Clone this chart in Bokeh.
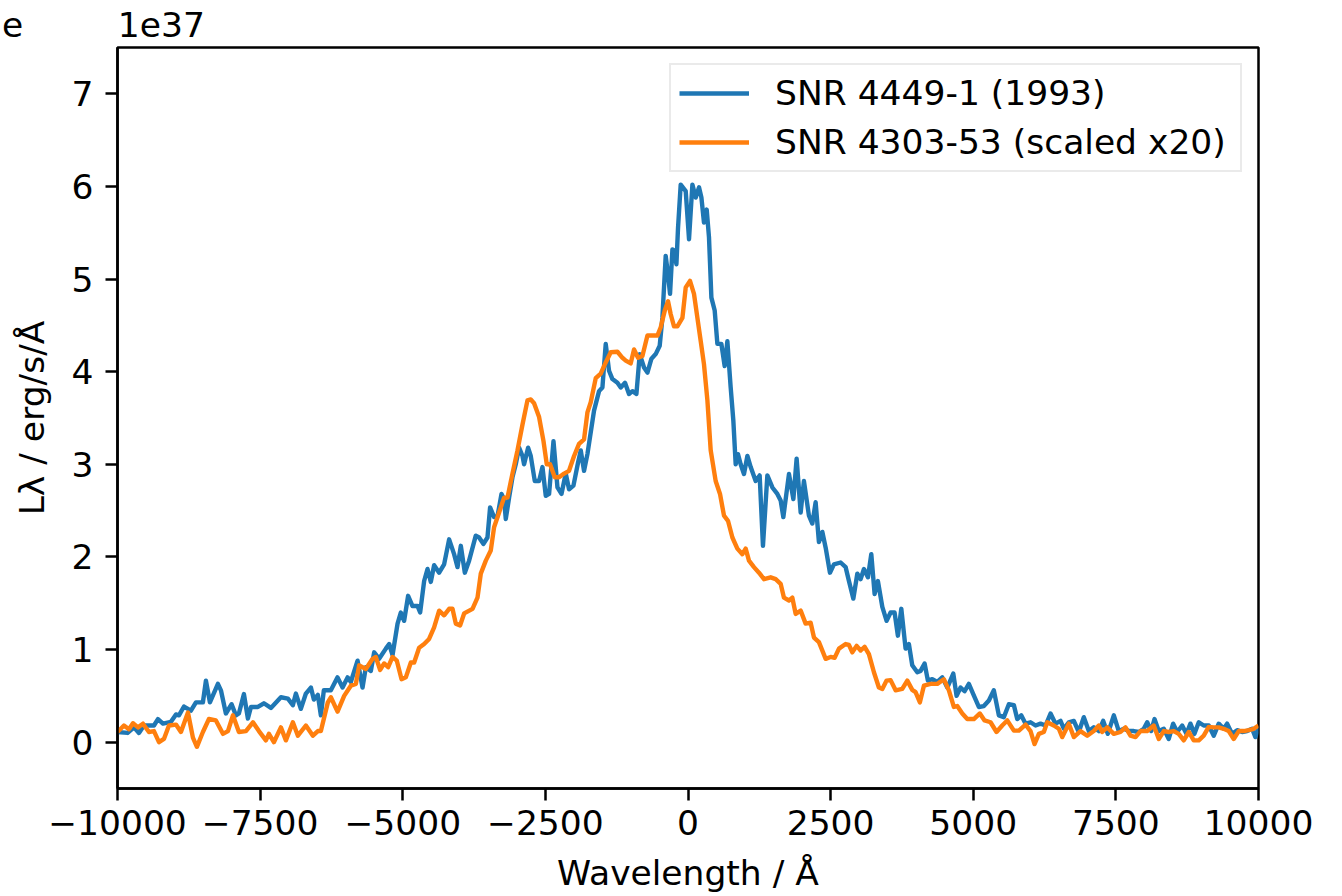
from bokeh.plotting import figure
from bokeh.models import ColumnDataSource, Legend, LegendItem, FixedTicker, Range1d, Title
from bokeh.embed import file_html
from bokeh.resources import INLINE

# ---------------- data (luminosity in units of 1e37 erg/s/Å) ----------------
blue_wavelength = [
    -10000, -9822, -9711, -9624, -9536, -9361, -9291, -9203, -9063, -8975,
    -8923, -8835, -8713, -8625, -8503, -8450, -8380, -8240, -8187, -8100,
    -8000, -7924, -7872, -7784, -7714, -7661, -7539, -7434, -7311, -7136,
    -7013, -6926, -6873, -6786, -6698, -6610, -6558, -6488, -6435, -6383,
    -6260, -6143, -6055, -5967, -5910, -5792, -5705, -5647, -5559, -5501,
    -5414, -5296, -5238, -5179, -5091, -5034, -4976, -4906, -4829, -4741,
    -4695, -4625, -4566, -4508, -4450, -4362, -4275, -4187, -4100, -4040,
    -3982, -3912, -3837, -3720, -3662, -3585, -3515, -3469, -3399, -3339,
    -3269, -3224, -3194, -3136, -3077, -3019, -2961, -2901, -2873, -2803,
    -2756, -2686, -2610, -2551, -2493, -2435, -2358, -2288, -2218, -2143,
    -2085, -2008, -1927,
    -1880, -1822, -1763, -1647, -1559, -1500, -1442, -1384, -1325, -1237,
    -1179, -1104, -1034, -974, -904, -846, -771, -711, -641, -566,
    -496, -449, -391, -350, -315, -273, -245, -203, -175, -128,
    -40, 18, 77, 135, 193, 235, 280, 328, 368, 410,
    468, 515, 585, 643, 690, 748, 795, 836, 876, 923,
    981, 1041, 1099, 1186, 1256, 1314, 1391, 1479, 1566,
    1624, 1671, 1770, 1847, 1904, 1975, 2032, 2120, 2179, 2237,
    2295, 2355, 2413, 2488, 2558, 2675, 2763, 2821, 2898, 2968,
    3026, 3084, 3154, 3213, 3271, 3329, 3406, 3481, 3551, 3621,
    3679, 3739, 3814, 3872, 3931, 4019, 4077, 4147, 4205, 4282,
    4370, 4457, 4545, 4650, 4708, 4778, 4848, 4923, 5000, 5098,
    5186, 5274, 5361, 5449,
    5536, 5624, 5712, 5771, 5841, 5917, 6004, 6092, 6179, 6267,
    6355, 6442, 6530, 6588, 6675, 6763, 6850, 6938, 7026, 7113,
    7201, 7278, 7358, 7464, 7551, 7639, 7726, 7814, 7902, 7989,
    8049, 8119, 8177, 8252, 8340, 8427, 8504, 8574, 8662, 8737,
    8807, 8877, 8953, 9040, 9128, 9216, 9303, 9391, 9450, 9538,
    9626, 9713, 9801, 9888, 9946, 10000,
]
blue_lum = [
    0.11, 0.10, 0.16, 0.10, 0.18, 0.18, 0.25, 0.20, 0.22, 0.30,
    0.29, 0.385, 0.34, 0.43, 0.43, 0.665, 0.43, 0.63, 0.56, 0.31,
    0.41, 0.29, 0.31, 0.52, 0.255, 0.38, 0.38, 0.42, 0.37, 0.485,
    0.47, 0.40, 0.525, 0.36, 0.525, 0.59, 0.46, 0.51, 0.29, 0.56,
    0.56, 0.70, 0.59, 0.70, 0.65, 0.88, 0.59, 0.81, 0.77, 0.97,
    0.90, 1.01, 1.06, 0.94, 1.28, 1.40, 1.31, 1.58, 1.47, 1.47,
    1.40, 1.74, 1.87, 1.73, 1.91, 1.83, 1.92, 2.19, 2.03, 1.89,
    2.12, 1.83, 1.96, 2.23, 2.21, 2.14, 2.21, 2.535, 2.43, 2.44,
    2.68, 2.62, 2.41, 2.64, 2.86, 3.00, 3.18, 3.09, 3.00, 3.18,
    3.09, 2.82, 2.82, 2.97, 2.66, 2.68, 3.25, 2.75, 2.68, 2.90,
    2.73, 2.77, 3.02,
    3.15, 2.93, 3.11, 3.58, 3.79, 3.83, 4.30, 4.01, 3.92, 3.88,
    3.83, 3.88, 3.76, 3.79, 3.76, 4.19, 4.045, 3.99, 4.14, 4.19,
    4.28, 4.58, 5.25, 5.05, 4.84, 5.32, 5.31, 5.16, 5.55, 6.02,
    5.95, 5.43, 6.02, 5.88, 5.99, 5.88, 5.61, 5.75, 5.45, 4.80,
    4.66, 4.30, 4.30, 4.06, 4.33, 3.83, 3.47, 3.00, 3.11, 3.00,
    2.895, 3.09, 2.97, 2.82, 2.88, 2.12, 2.88, 2.75, 2.68,
    2.61, 2.43, 2.895, 2.625, 3.06, 2.48, 2.82, 2.445, 2.36, 2.59,
    2.16, 2.27, 2.10, 1.83, 1.92, 1.94, 1.89, 1.74, 1.55, 1.82,
    1.76, 1.87, 1.78, 2.03, 1.60, 1.74, 1.46, 1.31, 1.40, 1.40,
    1.15, 1.44, 1.01, 1.06, 0.83, 0.755, 0.77, 0.85, 0.665, 0.68,
    0.65, 0.70, 0.59, 0.74, 0.50, 0.59, 0.55, 0.63, 0.52, 0.38,
    0.39, 0.45, 0.56, 0.29,
    0.27, 0.41, 0.40, 0.25, 0.29, 0.20, 0.215, 0.18, 0.20, 0.18,
    0.31, 0.20, 0.23, 0.145, 0.215, 0.23, 0.11, 0.27, 0.12, 0.16,
    0.12, 0.23, 0.09, 0.29, 0.12, 0.145, 0.12, 0.12, 0.11, 0.145,
    0.215, 0.12, 0.25, 0.12, 0.145, 0.035, 0.20, 0.11, 0.18, 0.09,
    0.20, 0.09, 0.215, 0.18, 0.18, 0.07, 0.20, 0.145, 0.20, 0.09,
    0.13, 0.11, 0.12, 0.145, 0.055, 0.16,
]

orange_wavelength = [
    -10000, -9887, -9799, -9729, -9641, -9554, -9449, -9361, -9273, -9186,
    -9098, -8975, -8888, -8765, -8678, -8608, -8503, -8397, -8275, -8152,
    -8064, -7977, -7872, -7749, -7626, -7521, -7399, -7346, -7259, -7136,
    -7048, -6926, -6838, -6698, -6575, -6488, -6435, -6313,
    -6260, -6143, -6027, -5910, -5822, -5764, -5647, -5529, -5472, -5396,
    -5326, -5256, -5179, -5104, -5021, -4946, -4858, -4800, -4713, -4625,
    -4538, -4450, -4362, -4275, -4187, -4128, -4070, -3995, -3924, -3777,
    -3690, -3632, -3544, -3457, -3399, -3311, -3224, -3164, -3077, -2989,
    -2901, -2814, -2756, -2698, -2610, -2533, -2476, -2418, -2335, -2260,
    -2172, -2085, -1997, -1910,
    -1822, -1763, -1705, -1617, -1530, -1442, -1354, -1237, -1149, -1091,
    -1004, -946, -876, -799, -711, -624, -536, -478, -403, -350,
    -303, -245, -186, -98, -40, 35, 105, 165, 223, 280,
    340, 398, 485, 561, 631, 701, 778, 865, 953, 1011,
    1069, 1156, 1244, 1332, 1449, 1537,
    1624, 1682, 1770, 1829, 1887, 1975, 2062, 2150, 2208, 2295,
    2413, 2500, 2570, 2646, 2763, 2821, 2880, 2956, 3026, 3096,
    3171, 3259, 3346, 3406, 3481, 3551, 3639, 3756, 3844, 3931,
    3989, 4065, 4135, 4252, 4370, 4485, 4573, 4660, 4720, 4808,
    4895, 5011, 5116, 5198, 5303, 5408, 5508,
    5596, 5712, 5800, 5917, 6004, 6074, 6150, 6237, 6297, 6412,
    6500, 6560, 6675, 6763, 6880, 6998, 7113, 7201, 7260, 7348,
    7464, 7581, 7669, 7756, 7844, 7931, 8049, 8164, 8252, 8340,
    8427, 8515, 8602, 8690, 8778, 8865, 8953, 9040, 9128, 9216,
    9303, 9391, 9478, 9566, 9654, 9741, 9829, 9916, 10000,
]
orange_lum = [
    0.11, 0.18, 0.14, 0.205, 0.16, 0.20, 0.11, 0.12, 0.0, 0.035,
    0.18, 0.19, 0.11, 0.32, 0.05, -0.05, 0.11, 0.25, 0.235, 0.09,
    0.12, 0.29, 0.11, 0.12, 0.215, 0.12, 0.02, 0.09, 0.0, 0.16,
    0.02, 0.215, 0.07, 0.18, 0.07, 0.12, 0.12, 0.43,
    0.485, 0.33, 0.50, 0.61, 0.63, 0.83, 0.79, 0.90, 0.92, 0.78,
    0.85, 0.81, 0.92, 0.88, 0.68, 0.70, 0.86, 0.86, 1.02, 1.06,
    1.115, 1.24, 1.42, 1.37, 1.44, 1.44, 1.28, 1.26, 1.39, 1.44,
    1.56, 1.82, 1.96, 2.07, 2.32, 2.48, 2.64, 2.64, 2.90, 3.15,
    3.43, 3.69, 3.70, 3.66, 3.51, 3.25, 3.00, 3.00, 2.86, 2.86,
    2.90, 2.93, 3.09, 3.22,
    3.27, 3.56, 3.67, 3.93, 3.98, 4.10, 4.21, 4.215, 4.15, 4.12,
    4.09, 4.24, 4.15, 4.17, 4.39, 4.39, 4.39, 4.48, 4.67, 4.76,
    4.62, 4.49, 4.49, 4.58, 4.91, 4.98, 4.84, 4.58, 4.33, 4.08,
    3.69, 3.15, 2.82, 2.68, 2.445, 2.39, 2.21, 2.09, 2.03, 2.09,
    1.96, 1.89, 1.83, 1.76, 1.78, 1.76,
    1.71, 1.56, 1.53, 1.56, 1.385, 1.42, 1.28, 1.29, 1.13, 1.08,
    0.90, 0.92, 0.91, 1.01, 1.06, 1.05, 0.97, 1.04, 0.99, 1.03,
    0.95, 0.755, 0.59, 0.575, 0.665, 0.67, 0.56, 0.575, 0.665, 0.565,
    0.54, 0.43, 0.61, 0.63, 0.63, 0.68, 0.56, 0.38, 0.39, 0.31,
    0.25, 0.25, 0.31, 0.235, 0.215, 0.11, 0.18,
    0.235, 0.125, 0.125, 0.19, 0.12, -0.02, 0.09, 0.11, 0.215, 0.18,
    0.145, 0.055, 0.20, 0.055, 0.12, 0.07, 0.12, 0.18, 0.11, 0.16,
    0.09, 0.11, 0.16, 0.07, 0.055, 0.12, 0.12, 0.18, 0.035, 0.12,
    0.11, 0.12, 0.09, 0.02, 0.11, 0.02, 0.02, 0.07, 0.165, 0.16,
    0.16, 0.145, 0.12, 0.035, 0.12, 0.12, 0.13, 0.145, 0.18,
]

series_labels = ["SNR 4449-1 (1993)", "SNR 4303-53 (scaled x20)"]
x_ticks = [-10000, -7500, -5000, -2500, 0, 2500, 5000, 7500, 10000]
y_ticks = [0, 1, 2, 3, 4, 5, 6, 7]
panel_letter = "e"
offset_text = "1e37"

assert len(blue_wavelength) == len(blue_lum), (len(blue_wavelength), len(blue_lum))
assert len(orange_wavelength) == len(orange_lum), (len(orange_wavelength), len(orange_lum))

FONT = "DejaVu Sans"
FS = "34.5px"

p = figure(width=1342, height=896, output_backend="svg", toolbar_location=None,
           x_range=Range1d(-10000, 10000), y_range=Range1d(-0.5, 7.5),
           min_border_left=117, min_border_right=84, min_border_top=47, min_border_bottom=108)
p.background_fill_color = "white"
p.border_fill_color = "white"
p.grid.visible = False
p.outline_line_color = "black"
p.outline_line_width = 2.5

# panel letter (at the canvas' left edge) and offset text "1e37" above the frame
p.title = Title(text=panel_letter + "\u00a0" * 8 + "\u2009" + offset_text, align="left",
                vertical_align="middle", text_font=FONT, text_font_size=FS,
                text_font_style="normal", text_color="black", standoff=4, offset=-115.5)

src_b = ColumnDataSource(dict(x=blue_wavelength, y=blue_lum))
src_o = ColumnDataSource(dict(x=orange_wavelength, y=orange_lum))
r1 = p.line("x", "y", source=src_b, line_color="#1f77b4", line_width=4.4, line_join="round")
r2 = p.line("x", "y", source=src_o, line_color="#ff7f0e", line_width=4.4, line_join="round")

for ax in (p.xaxis[0], p.yaxis[0]):
    ax.axis_line_width = 2.5
    ax.major_tick_line_width = 2.5
    ax.major_tick_out = 12
    ax.major_tick_in = 0
    ax.minor_tick_line_color = None
    ax.major_label_text_font = FONT
    ax.major_label_text_font_size = FS
    ax.major_label_text_color = "black"
    ax.axis_label_text_font = FONT
    ax.axis_label_text_font_size = FS
    ax.axis_label_text_font_style = "normal"
    ax.axis_label_text_color = "black"

p.xaxis.ticker = FixedTicker(ticks=x_ticks)
p.xaxis.major_label_overrides = {t: (("\u2212" + str(-t)) if t < 0 else str(t)) for t in x_ticks}
p.xaxis.major_label_standoff = 9
p.xaxis.axis_label = "Wavelength / Å"
p.xaxis.axis_label_standoff = 15

p.yaxis.ticker = FixedTicker(ticks=y_ticks)
p.yaxis.major_label_overrides = {t: str(t) for t in y_ticks}
p.yaxis.major_label_standoff = 12
p.yaxis.axis_label = "Lλ / erg/s/Å"
p.yaxis.axis_label_standoff = 17

legend = Legend(items=[LegendItem(label=series_labels[0], renderers=[r1]),
                       LegendItem(label=series_labels[1], renderers=[r2])],
                location="top_right")
legend.label_text_font = FONT
legend.label_text_font_size = FS
legend.label_text_color = "black"
legend.glyph_width = 70
legend.glyph_height = 40
legend.label_height = 40
legend.label_width = 457
legend.label_standoff = 26
legend.spacing = 9
legend.padding = 8
legend.margin = 16
legend.border_line_color = "#d5d5d5"
legend.border_line_width = 2
legend.background_fill_alpha = 0.8
p.add_layout(legend)

open("out.html", "w").write(file_html(p, INLINE))
